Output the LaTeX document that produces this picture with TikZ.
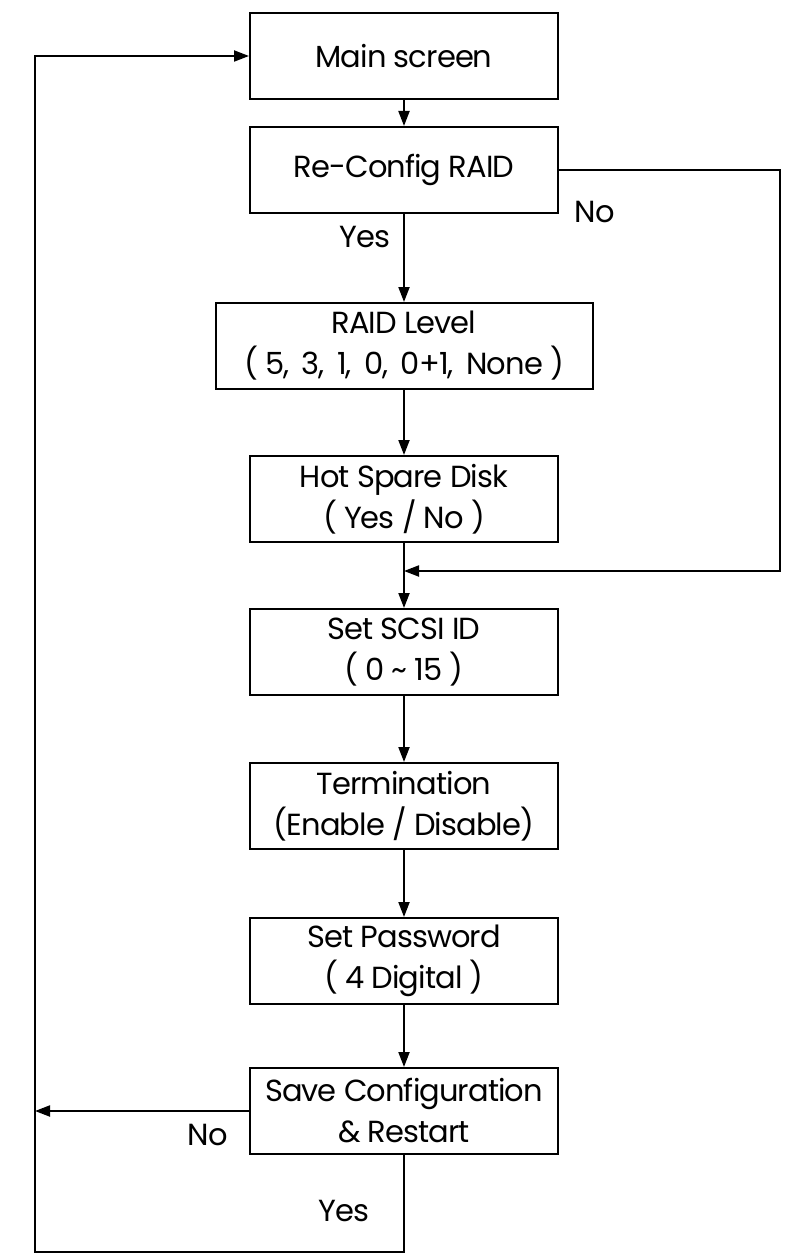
\documentclass[tikz,border=0pt]{standalone}
\usepackage{fontspec}
\setmainfont{Poppins}[LetterSpace=-3]
\usetikzlibrary{arrows.meta}
\begin{document}
\begin{tikzpicture}[x=1pt,y=-1pt,
  box/.style={draw, line width=2pt, minimum width=308pt, minimum height=86pt, align=center, inner sep=0pt, font=\fontsize{30.5}{41}\selectfont},
  lbl/.style={font=\fontsize{30.5}{36}\selectfont, inner sep=0pt},
  arr/.style={line width=2pt, -{Triangle[length=15pt,width=11pt]}},
  ln/.style={line width=2pt}]
\useasboundingbox (0,0) rectangle (789,1260);
\node[box] (main) at (404,56) {Main screen};
\node[box] (re) at (404,170) {Re-Config RAID};
\node[box, minimum width=377pt] (raid) at (404,346) {RAID Level\\( 5,\, 3,\, 1,\, 0,\, 0+1,\, None )};
\node[box] (hot) at (404,499) {Hot Spare Disk\\( Yes / No )};
\node[box] (scsi) at (404,652) {Set SCSI ID\\( 0 \textasciitilde{} 15 )};
\node[box] (term) at (404,806) {Termination\\(Enable / Disable)};
\node[box] (pass) at (404,961) {Set Password\\( 4 Digital )};
\node[box] (save) at (404,1111) {Save Configuration\\\& Restart};
\coordinate (rc) at (780,170);
\coordinate (merge) at (404,571);
\coordinate (lb) at (35,1252);
\coordinate (sb) at (404,1252);
\node[lbl] (yes1) at (365,237) {Yes};
\node[lbl] (no1) at (595,212) {No};
\node[lbl] (no2) at (208,1135) {No};
\node[lbl] (yes2) at (344,1211) {Yes};
\draw[arr] (main) -- (re);
\draw[arr] (re) -- (raid);
\draw[arr] (raid) -- (hot);
\draw[arr] (hot) -- (scsi);
\draw[arr] (scsi) -- (term);
\draw[arr] (term) -- (pass);
\draw[arr] (pass) -- (save);
\draw[arr] (re.east) -- (rc) -- (rc |- merge) -- (merge);
\draw[arr] (save.west) -- (save.west -| lb);
\draw[arr] (save.south) -- (sb) -- (lb) -- (lb |- main.west) -- (main.west);
\end{tikzpicture}
\end{document}
